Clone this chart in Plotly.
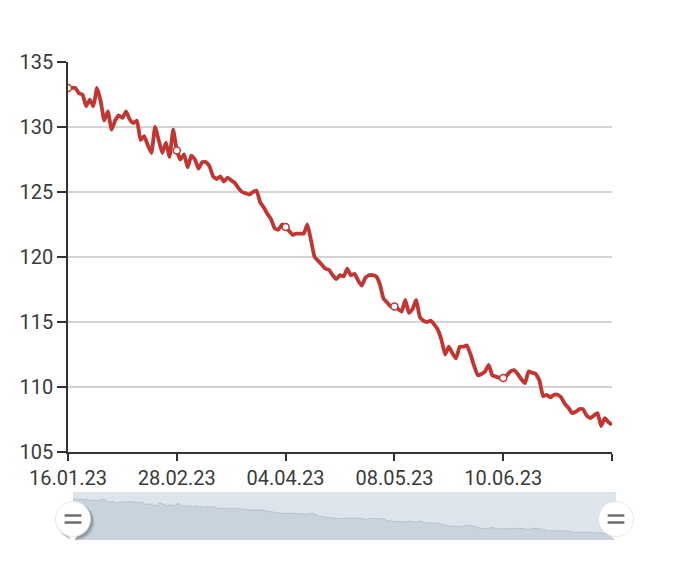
import plotly.graph_objects as go

# ---- data ----
values = [
    133.0, 133.0, 133.0, 132.6, 132.5, 131.6, 132.1, 131.6, 133.0, 132.0,
    130.5, 131.2, 129.8, 130.5, 130.9, 130.7, 131.2, 130.6, 130.3, 130.5,
    129.0, 129.3, 128.6, 128.0, 130.0, 129.0, 128.0, 128.8, 127.7, 129.8,
    128.2, 127.5, 127.9, 126.9, 127.8, 127.5, 126.8, 127.3, 127.3, 127.0,
    126.2, 126.0, 126.2, 125.8, 126.1, 125.9, 125.7, 125.3, 125.0, 124.9,
    124.8, 125.0, 125.1, 124.2, 123.8, 123.3, 122.9, 122.2, 122.1, 122.5,
    122.3, 122.0, 121.7, 121.8, 121.8, 121.8, 122.5, 121.3, 120.0, 119.7,
    119.4, 119.1, 119.0, 118.6, 118.3, 118.6, 118.5, 119.1, 118.6, 118.7,
    118.2, 117.8, 118.4, 118.6, 118.6, 118.5, 117.9, 116.8, 116.5, 116.2,
    116.2, 116.0, 115.8, 116.7, 115.7, 116.0, 116.7, 115.4, 115.1, 115.0,
    115.1, 114.8, 114.4, 113.6, 112.5, 113.1, 112.6, 112.2, 113.1, 113.1,
    113.2, 112.5, 111.6, 110.9, 111.0, 111.2, 111.7, 110.9, 110.8, 110.7,
    110.7, 110.9, 111.2, 111.3, 111.0, 110.6, 110.3, 111.2, 111.1, 111.0,
    110.5, 109.3, 109.4, 109.2, 109.4, 109.4, 109.2, 108.7, 108.4, 108.0,
    108.1, 108.3, 108.3, 107.8, 107.6, 107.8, 108.0, 107.0, 107.6, 107.3,
    107.1,
]
tick_labels = ["16.01.23", "28.02.23", "04.04.23", "08.05.23", "10.06.23", ""]
label_step = 30
y_min, y_max, y_step = 105, 135, 5

# ---- derived ----
idx = list(range(len(values)))
last = len(values) - 1
tick_idx = [i * label_step for i in range(len(tick_labels))]
marker_idx = tick_idx[:-1]
marker_vals = [values[i] for i in marker_idx]

RED = "#c23531"
FONT = "Roboto"
TXT = "#3a3a3a"

OFF = 8  # page body margin
W, H = 680, 579
# target positions (screen px)
plot_l, plot_r, plot_t, plot_b = 68, 612, 62, 452
slider_l, slider_r, slider_t, slider_b = 73, 616, 492, 540
handle_cy = 519
s_lo, s_hi = 102.5, 138.2  # slider value range

ML = plot_l - OFF
MT = plot_t - OFF
area_r = 620 - OFF
MR = W - area_r
MB = H - (slider_b - OFF)
area_w = W - ML - MR
area_h = H - MT - MB


def px(x):
    return (x - plot_l) / area_w


def py(y):
    return (slider_b - y) / area_h


# slider unit conversions (px -> data units)
sx_per_px = last / (slider_r - slider_l)
sy_per_px = (s_hi - s_lo) / (slider_b - slider_t)
h_y = s_lo + (slider_b - handle_cy) * sy_per_px
h_x = [0, last]

fig = go.Figure()

# data shadow in the zoom slider
fig.add_trace(go.Scatter(
    x=idx, y=values, xaxis="x2", yaxis="y2", mode="lines",
    line=dict(color="#b8c3cf", width=1), fill="tozeroy",
    fillcolor="#c9d3de", hoverinfo="skip", showlegend=False,
))
# handles (shadow, body, pointer, grip lines)
for off_px, sz, col in ((3.0, 37, "rgba(0,0,0,0.10)"),
                        (2.0, 36, "rgba(0,0,0,0.18)")):
    fig.add_trace(go.Scatter(
        x=[v + off_px * sx_per_px for v in h_x],
        y=[h_y - off_px * sy_per_px] * 2,
        xaxis="x2", yaxis="y2", mode="markers", cliponaxis=False,
        marker=dict(size=sz, color=col, line=dict(width=0)),
        hoverinfo="skip", showlegend=False,
    ))
fig.add_trace(go.Scatter(
    x=h_x, y=[h_y - 17 * sy_per_px] * 2,
    xaxis="x2", yaxis="y2", mode="markers", cliponaxis=False,
    marker=dict(size=11, symbol="triangle-down", color="white",
                line=dict(width=0)),
    hoverinfo="skip", showlegend=False,
))
fig.add_trace(go.Scatter(
    x=h_x, y=[h_y] * 2,
    xaxis="x2", yaxis="y2", mode="markers", cliponaxis=False,
    marker=dict(size=35, color="white", line=dict(width=0.8, color="#e2e2e2")),
    hoverinfo="skip", showlegend=False,
))
fig.add_trace(go.Scatter(
    x=h_x * 2,
    y=[h_y + 3.5 * sy_per_px] * 2 + [h_y - 3.5 * sy_per_px] * 2,
    xaxis="x2", yaxis="y2", mode="markers", cliponaxis=False,
    marker=dict(size=12, symbol="line-ew",
                line=dict(color="#6e6e6e", width=2.5)),
    hoverinfo="skip", showlegend=False,
))

# main line
fig.add_trace(go.Scatter(
    x=idx, y=values, mode="lines",
    line=dict(color=RED, width=3.8, shape="spline", smoothing=0.4),
    showlegend=False,
))
fig.add_trace(go.Scatter(
    x=marker_idx, y=marker_vals, mode="markers",
    marker=dict(size=7, color="white", line=dict(color=RED, width=1.5)),
    showlegend=False,
))

shapes = [dict(type="rect", xref="x2 domain", yref="y2 domain",
               x0=0, x1=1, y0=0, y1=1, fillcolor="#dde4ec",
               line=dict(width=0), layer="below")]

fig.update_layout(
    width=W, height=H,
    margin=dict(l=ML, r=MR, t=MT, b=MB),
    paper_bgcolor="white", plot_bgcolor="white",
    font=dict(family=FONT, size=20, color=TXT),
    shapes=shapes,
    xaxis=dict(
        domain=[0, (plot_r - plot_l) / area_w],
        range=[0, last],
        tickmode="array", tickvals=tick_idx, ticktext=tick_labels,
        showline=True, linecolor="#333", linewidth=1.5,
        ticks="outside", ticklen=7, tickwidth=1.5, tickcolor="#333",
        showgrid=False, zeroline=False, anchor="y", automargin=False,
        tickfont=dict(family=FONT, size=20, color=TXT),
    ),
    yaxis=dict(
        domain=[py(plot_b), 1],
        range=[y_min, y_max], dtick=y_step, tick0=y_min,
        showline=True, linecolor="#333", linewidth=1.5,
        ticks="outside", ticklen=9, tickwidth=1.5, tickcolor="#333",
        showgrid=True, gridcolor="#d4d4d4", gridwidth=1.5,
        zeroline=False, anchor="x", automargin=False,
        tickfont=dict(family=FONT, size=20, color=TXT),
    ),
    xaxis2=dict(
        domain=[px(slider_l), px(slider_r)],
        range=[0, last], visible=False, anchor="y2", fixedrange=True,
    ),
    yaxis2=dict(
        domain=[0, py(slider_t)],
        range=[s_lo, s_hi], visible=False, anchor="x2", fixedrange=True,
    ),
)

fig.write_html("out.html")
